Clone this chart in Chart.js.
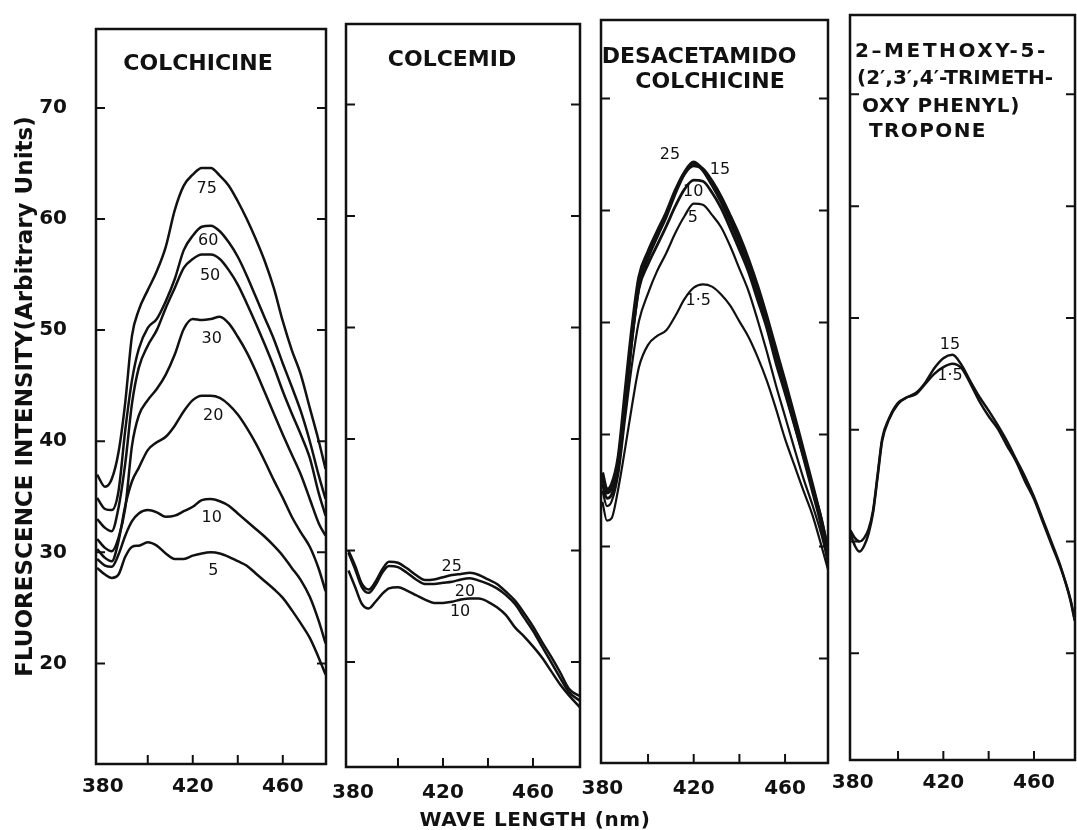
<!DOCTYPE html>
<html>
<head>
<meta charset="utf-8">
<title>Fluorescence spectra</title>
<script src="https://cdn.jsdelivr.net/npm/chart.js@4.4.0/dist/chart.umd.min.js"></script>
<style>
    body { margin: 0; background: #fff; }
    #wrap { position: relative; width: 1077px; height: 830px; overflow: hidden; }
    #wrap canvas { position: absolute; top: 0; }
    #xtitle {
        position: absolute; left: 335px; top: 807px; width: 400px; text-align: center;
        font: bold 20px 'DejaVu Sans', sans-serif; color: #111; line-height: 24px; letter-spacing: 0.6px;
    }
</style>
</head>
<body>
<div id="wrap">
    <canvas id="c1" width="360" height="830" style="left:0px"></canvas>
    <canvas id="c2" width="300" height="830" style="left:316px"></canvas>
    <canvas id="c3" width="290" height="830" style="left:571px"></canvas>
    <canvas id="c4" width="257" height="830" style="left:820px"></canvas>
    <div id="xtitle">WAVE LENGTH (nm)</div>
</div>

<script>
const FONT = "'DejaVu Sans', 'Liberation Sans', sans-serif";

// axis ticks
const yTicks = [20, 30, 40, 50, 60, 70];
const xTickLabels = [380, 420, 460];
const xTickMarks = [400, 420, 440, 460];

// COLCHICINE
const colchicineNm = [377.5, 381, 384, 387, 390, 393, 396, 400, 404, 408, 412, 416, 420, 424, 428, 432, 436, 440, 444, 448, 452, 456, 460, 464, 468, 472, 476, 479];
const colchicine75 = [37.0, 35.9, 36.6, 39.0, 43.5, 49.5, 51.8, 53.6, 55.3, 57.5, 60.8, 63.0, 64.0, 64.6, 64.6, 63.9, 63.0, 61.6, 60.0, 58.2, 56.2, 53.8, 50.8, 48.2, 46.0, 43.0, 40.0, 37.5];
const colchicine60 = [34.9, 33.9, 33.8, 35.5, 41.0, 45.5, 48.3, 50.2, 51.0, 52.6, 54.6, 57.2, 58.5, 59.3, 59.4, 58.9, 57.9, 56.6, 54.9, 53.0, 51.1, 49.2, 47.0, 44.9, 42.7, 40.0, 36.9, 34.8];
const colchicine50 = [33.0, 32.2, 31.9, 34.0, 38.0, 43.4, 46.6, 48.6, 50.0, 52.0, 53.8, 55.6, 56.4, 56.8, 56.8, 56.4, 55.4, 54.1, 52.4, 50.6, 48.7, 46.7, 44.5, 42.5, 40.6, 38.5, 35.3, 33.3];
const colchicine30 = [31.2, 30.4, 30.1, 31.3, 34.0, 39.6, 42.3, 43.7, 44.7, 46.0, 47.8, 50.1, 51.0, 50.9, 51.0, 51.2, 50.6, 49.4, 48.0, 46.3, 44.4, 42.5, 40.6, 38.8, 37.0, 34.8, 32.6, 31.5];
const colchicine20 = [30.3, 29.5, 29.2, 31.0, 34.2, 36.4, 37.6, 39.2, 39.9, 40.4, 41.4, 42.7, 43.7, 44.1, 44.1, 43.9, 43.3, 42.4, 41.2, 39.8, 38.2, 36.5, 34.9, 33.2, 31.8, 30.5, 28.5, 26.5];
const colchicine10 = [29.4, 28.8, 28.7, 29.8, 31.5, 32.8, 33.5, 33.8, 33.6, 33.2, 33.3, 33.7, 34.1, 34.7, 34.8, 34.6, 34.2, 33.5, 32.8, 32.1, 31.4, 30.6, 29.7, 28.6, 27.5, 26.0, 23.8, 21.8];
const colchicine5 = [28.6, 28.0, 27.7, 28.0, 29.6, 30.5, 30.6, 30.9, 30.6, 29.9, 29.4, 29.4, 29.7, 29.9, 30.0, 29.9, 29.6, 29.2, 28.8, 28.1, 27.4, 26.7, 25.9, 24.8, 23.6, 22.3, 20.5, 19.0];
const colchicineNames = ['75', '60', '50', '30', '20', '10', '5'];

// COLCEMID
const colcemidNm = [378, 381, 384, 387, 390, 393, 396, 400, 404, 408, 412, 416, 420, 424, 428, 432, 436, 440, 444, 448, 452, 456, 460, 464, 468, 472, 476, 481];
const colcemid25 = [30.0, 28.6, 27.0, 26.5, 27.2, 28.3, 29.0, 28.9, 28.4, 27.8, 27.35, 27.4, 27.6, 27.8, 27.9, 28.0, 27.8, 27.4, 27.0, 26.3, 25.5, 24.4, 23.2, 21.8, 20.5, 19.1, 17.6, 16.9];
const colcemid20 = [29.8, 28.3, 26.7, 26.2, 26.9, 28.0, 28.6, 28.5, 28.0, 27.4, 27.0, 27.0, 27.1, 27.2, 27.4, 27.5, 27.3, 27.0, 26.6, 26.0, 25.2, 24.0, 22.8, 21.4, 20.0, 18.6, 17.3, 16.5];
const colcemid10 = [28.2, 26.7, 25.2, 24.8, 25.4, 26.1, 26.6, 26.7, 26.4, 26.0, 25.6, 25.3, 25.3, 25.4, 25.6, 25.7, 25.7, 25.4, 24.9, 24.2, 23.1, 22.3, 21.4, 20.4, 19.2, 18.0, 17.0, 15.9];
const colcemidNames = ['25', '20', '10'];

// DESACETAMIDO COLCHICINE
const desacNm = [380, 382, 384, 387, 390, 393, 396, 400, 404, 408, 412, 416, 420, 424, 428, 432, 436, 440, 444, 448, 452, 456, 460, 464, 468, 472, 476, 479];
const desac25 = [36.6, 35.1, 35.5, 38.0, 43.8, 49.5, 54.0, 56.3, 58.1, 59.8, 61.8, 63.4, 64.3, 63.6, 62.3, 60.8, 59.0, 57.1, 54.9, 52.4, 49.8, 46.9, 44.0, 41.1, 38.1, 35.0, 31.8, 28.5];
const desac15 = [36.2, 34.8, 35.2, 37.6, 43.0, 48.8, 53.3, 55.8, 57.7, 59.5, 61.6, 63.3, 64.0, 63.7, 62.6, 61.2, 59.5, 57.7, 55.6, 53.2, 50.5, 47.6, 44.7, 41.7, 38.6, 35.5, 32.2, 29.5];
const desac10 = [35.6, 34.3, 34.6, 37.1, 42.5, 48.5, 53.0, 55.2, 56.9, 58.6, 60.4, 61.9, 62.7, 62.6, 61.6, 60.2, 58.4, 56.5, 54.5, 52.0, 49.5, 46.4, 43.7, 40.9, 38.1, 35.3, 32.4, 29.5];
const desac5 = [35.0, 33.6, 34.0, 36.5, 41.5, 46.3, 50.1, 52.6, 54.6, 56.2, 58.0, 59.5, 60.6, 60.5, 59.6, 58.5, 56.8, 54.8, 52.8, 50.2, 47.4, 44.4, 41.6, 38.8, 36.1, 33.7, 31.0, 28.5];
const desac1_5 = [34.0, 32.3, 32.5, 35.2, 38.8, 42.6, 46.0, 48.0, 48.8, 49.3, 50.6, 52.1, 53.1, 53.4, 53.2, 52.5, 51.5, 50.1, 48.7, 46.9, 44.8, 42.3, 39.6, 37.3, 35.0, 32.8, 30.0, 27.8];
const desacNames = ['25', '15', '10', '5', '1·5'];

// 2-METHOXY-5-(2',3',4'-TRIMETHOXYPHENYL) TROPONE
const troponeNm = [379, 381, 383, 385, 387, 389, 391, 393, 396, 400, 404, 408, 412, 416, 420, 424, 428, 432, 436, 440, 444, 448, 452, 456, 460, 464, 468, 472, 476, 478];
const tropone15 = [31.0, 30.3, 30.0, 30.3, 31.1, 32.8, 36.0, 39.2, 41.0, 42.4, 42.9, 43.3, 44.2, 45.5, 46.4, 46.7, 45.8, 44.3, 42.9, 41.7, 40.4, 39.0, 37.4, 35.8, 34.0, 31.9, 29.8, 27.6, 24.8, 22.9];
const tropone1_5 = [30.7, 29.6, 29.1, 29.6, 30.7, 32.6, 35.8, 39.0, 40.9, 42.3, 42.9, 43.2, 44.1, 45.0, 45.6, 45.9, 45.5, 44.1, 42.5, 41.2, 40.1, 38.6, 37.2, 35.4, 33.8, 31.7, 29.6, 27.5, 24.9, 23.0];
const troponeNames = ['15', '1·5'];

const titleFont = 'bold 22px ' + FONT;
const smallTitleFont = 'bold 20px ' + FONT;

const panels = [
    {
        id: 'c1', left: 0, width: 360,
        area: { left: 96, right: 326, top: 29, bottom: 764 },
        xRange: [377, 479.2], yRange: [10.95, 77.1],
        nm: colchicineNm,
        series: [colchicine75, colchicine60, colchicine50, colchicine30, colchicine20, colchicine10, colchicine5],
        names: colchicineNames,
        labelAt: [[426.2, 62.7], [426.9, 58.0], [427.7, 54.9], [428.4, 49.2], [429.1, 42.3], [428.4, 33.1], [429.1, 28.3]],
        tickPad: 11, showY: true,
        title: [{ text: 'COLCHICINE', x: 198, y: 64, align: 'center', font: titleFont }]
    },
    {
        id: 'c2', left: 316, width: 300,
        area: { left: 346, right: 580, top: 24, bottom: 767 },
        xRange: [376.9, 480.9], yRange: [10.58, 77.22],
        nm: colcemidNm,
        series: [colcemid25, colcemid20, colcemid10],
        names: colcemidNames,
        labelAt: [[423.9, 28.5], [429.8, 26.3], [427.6, 24.5]],
        tickPad: 14, showY: false,
        title: [{ text: 'COLCEMID', x: 452, y: 60, align: 'center', font: titleFont }]
    },
    {
        id: 'c3', left: 571, width: 290,
        area: { left: 601, right: 828, top: 20, bottom: 763 },
        xRange: [379.4, 478.8], yRange: [10.67, 77.0],
        nm: desacNm,
        series: [desac25, desac15, desac10, desac5, desac1_5],
        widths: [3.4, 3.4, 2.8, 2.2, 2.2],
        names: desacNames,
        labelAt: [[409.6, 65.0], [431.5, 63.6], [419.8, 61.7], [419.6, 59.3], [422, 51.9]],
        tickPad: 14, showY: false,
        title: [
            { text: 'DESACETAMIDO', x: 699, y: 57, align: 'center', font: titleFont },
            { text: 'COLCHICINE', x: 710, y: 82, align: 'center', font: titleFont }
        ]
    },
    {
        id: 'c4', left: 820, width: 257,
        area: { left: 850, right: 1075, top: 15, bottom: 760 },
        xRange: [378.8, 478.1], yRange: [10.45, 77.1],
        nm: troponeNm,
        series: [tropone15, tropone1_5],
        names: troponeNames,
        labelAt: [[422.9, 47.6], [422.9, 44.8]],
        tickPad: 11, showY: false,
        title: [
            { text: '2–METHOXY-5-', x: 855, y: 52, align: 'left', font: smallTitleFont, spacing: '2.6px' },
            { text: '(2′,3′,4′-TRIMETH-', x: 857, y: 79, align: 'left', font: smallTitleFont },
            { text: 'OXY PHENYL)', x: 862, y: 107, align: 'left', font: smallTitleFont, spacing: '0.6px' },
            { text: 'TROPONE', x: 869, y: 132, align: 'left', font: smallTitleFont, spacing: '1.4px' }
        ]
    }
];

// box, inward ticks, panel titles and curve labels
function makeFrame(p) {
    return {
        id: 'frame',
        afterDraw(chart) {
            const { ctx, chartArea: a, scales } = chart;
            ctx.save();
            ctx.strokeStyle = '#111';
            ctx.lineWidth = 2.5;
            ctx.strokeRect(a.left, a.top, a.right - a.left, a.bottom - a.top);

            ctx.lineWidth = 2;
            ctx.beginPath();
            yTicks.forEach(v => {
                const py = scales.y.getPixelForValue(v);
                ctx.moveTo(a.left, py); ctx.lineTo(a.left + 9, py);
                ctx.moveTo(a.right, py); ctx.lineTo(a.right - 9, py);
            });
            xTickMarks.forEach(v => {
                const px = scales.x.getPixelForValue(v);
                ctx.moveTo(px, a.bottom); ctx.lineTo(px, a.bottom - 9);
            });
            ctx.stroke();

            ctx.fillStyle = '#111';
            ctx.textBaseline = 'middle';
            p.title.forEach(t => {
                ctx.font = t.font;
                ctx.textAlign = t.align;
                ctx.letterSpacing = t.spacing || '0px';
                ctx.fillText(t.text, t.x - p.left, t.y);
            });
            ctx.letterSpacing = '0px';

            ctx.font = '16px ' + FONT;
            ctx.textAlign = 'center';
            p.labelAt.forEach((xy, i) => {
                ctx.fillText(p.names[i], scales.x.getPixelForValue(xy[0]), scales.y.getPixelForValue(xy[1]));
            });
            ctx.restore();
        }
    };
}

panels.forEach(p => {
    let yScale = {
        min: p.yRange[0], max: p.yRange[1],
        display: p.showY,
        afterBuildTicks: s => { s.ticks = yTicks.map(v => ({ value: v })); },
        grid: { display: false, drawTicks: false },
        border: { display: false }
    };
    if (p.showY) {
        yScale.afterFit = s => {
            s.width = p.area.left - p.left;
            s.paddingTop = 0;
            s.paddingBottom = 0;
        };
        yScale.ticks = { color: '#111', font: { family: FONT, size: 20, weight: 'bold' }, padding: 29 };
        yScale.title = {
            display: true,
            text: 'FLUORESCENCE INTENSITY(Arbitrary Units)',
            color: '#111',
            font: { family: FONT, size: 23, weight: 'bold' },
            padding: { top: 12, bottom: 0 }
        };
    }

    new Chart(document.getElementById(p.id), {
        type: 'line',
        data: {
            datasets: p.series.map((vals, i) => ({
                label: p.names[i],
                data: p.nm.map((w, j) => ({ x: w, y: vals[j] })),
                borderColor: '#111',
                borderWidth: p.widths ? p.widths[i] : 2.5,
                pointRadius: 0,
                fill: false,
                cubicInterpolationMode: 'monotone'
            }))
        },
        options: {
            responsive: false,
            animation: false,
            devicePixelRatio: 1,
            layout: {
                padding: {
                    left: p.showY ? 0 : p.area.left - p.left,
                    right: p.left + p.width - p.area.right,
                    top: p.area.top,
                    bottom: 0
                }
            },
            plugins: { legend: { display: false }, tooltip: { enabled: false } },
            scales: {
                x: {
                    type: 'linear',
                    min: p.xRange[0], max: p.xRange[1],
                    afterBuildTicks: s => { s.ticks = xTickLabels.map(v => ({ value: v })); },
                    afterFit: s => {
                        s.height = 830 - p.area.bottom;
                        s.paddingLeft = 0;
                        s.paddingRight = 0;
                    },
                    ticks: {
                        color: '#111',
                        font: { family: FONT, size: 20, weight: 'bold' },
                        padding: p.tickPad,
                        maxRotation: 0,
                        autoSkip: false
                    },
                    grid: { display: false, drawTicks: false },
                    border: { display: false }
                },
                y: yScale
            }
        },
        plugins: [makeFrame(p)]
    });
});
</script>
</body>
</html>
